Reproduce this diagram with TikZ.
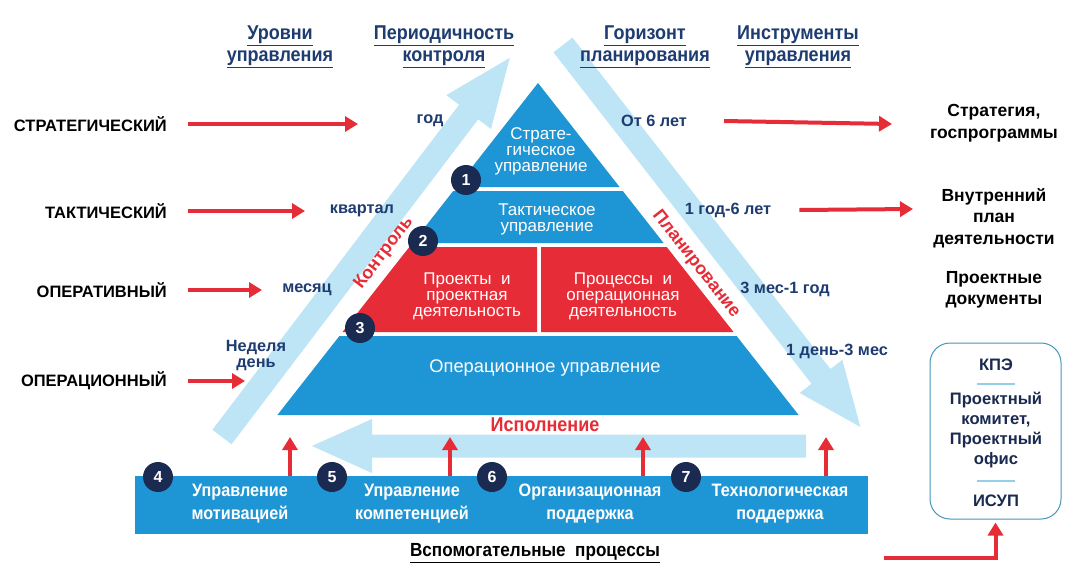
\documentclass[tikz,border=0pt]{standalone}
\usepackage{fontspec}
\setmainfont{Liberation Sans}
\newfontfamily\narrowbf{Liberation Sans Bold}[FakeStretch=0.9]
\usetikzlibrary{arrows.meta,calc}
\definecolor{pblue}{RGB}{30,150,214}
\definecolor{pred}{RGB}{230,45,55}
\definecolor{lblue}{RGB}{190,229,246}
\definecolor{navy}{RGB}{27,42,80}
\definecolor{tnavy}{RGB}{30,60,112}
\definecolor{boxline}{RGB}{70,150,190}
\definecolor{sepline}{RGB}{150,205,232}
\tikzset{
  redarrow/.style={draw=pred,line width=4pt,-{Triangle[length=13pt,width=15pt]},shorten >=0pt},
  layer/.style={fill=pblue},
  redlayer/.style={fill=pred},
  layertext/.style={text=white,align=center,inner sep=0pt,font=\fontsize{17}{16}\selectfont},
  numcircle/.style={circle,fill=navy,text=white,minimum size=30pt,inner sep=0pt,font=\bfseries\fontsize{16}{16}\selectfont},
  levellabel/.style={anchor=east,inner sep=0pt,font=\bfseries\fontsize{16.5}{17}\selectfont},
  periodlabel/.style={text=tnavy,align=center,inner sep=0pt,font=\bfseries\fontsize{16.3}{16}\selectfont},
  toollabel/.style={align=center,inner sep=0pt,font=\bfseries\fontsize{17.5}{21.5}\selectfont},
  header/.style={text=tnavy,align=center,inner sep=0pt,font=\narrowbf\fontsize{20}{22}\selectfont},
  bartext/.style={text=white,align=center,inner sep=0pt,font=\narrowbf\fontsize{18}{23}\selectfont},
  boxtext/.style={text=navy,align=center,inner sep=0pt,font=\bfseries\fontsize{16.6}{20}\selectfont},
  flowlabel/.style={text=pred,inner sep=0pt,font=\bfseries\fontsize{18}{18}\selectfont},
}
\begin{document}
\begin{tikzpicture}[x=1pt,y=-1pt]
\useasboundingbox (0,0) rectangle (1084,581);
\fill[white] (0,0) rectangle (1084,581);

% --- light blue flow arrows ---
\begin{scope}[shift={(222,437)},rotate=52.8]
  \fill[lblue] (0,-12) -- (408,-12) -- (408,-28) -- (476,0) -- (408,28) -- (408,12) -- (0,12) -- cycle;
\end{scope}
\begin{scope}[shift={(563,45)},rotate=-52.1]
  \fill[lblue] (0,-12) -- (420,-12) -- (420,-27) -- (484,0) -- (420,27) -- (420,12) -- (0,12) -- cycle;
\end{scope}
\begin{scope}[shift={(806,446)},rotate=180]
  \fill[lblue] (0,-11.5) -- (434,-11.5) -- (434,-27) -- (494,0) -- (434,27) -- (434,11.5) -- (0,11.5) -- cycle;
\end{scope}

% --- pyramid ---
\fill[layer] (538,83) -- (619.6,187) -- (456.4,187) -- cycle;
\fill[layer] (453.2,191) -- (622.8,191) -- (663.6,243) -- (412.4,243) -- cycle;
\fill[redlayer] (409.3,247) -- (537,247) -- (537,332) -- (342.5,332) -- cycle;
\fill[redlayer] (541,247) -- (666.7,247) -- (733.5,332) -- (541,332) -- cycle;
\fill[layer] (339.4,336) -- (736.6,336) -- (798.6,415) -- (277.4,415) -- cycle;

\node[layertext] (l1) at (541,151) {Страте-\\гическое\\управление};
\node[layertext] (l2) at (547,219) {Тактическое\\управление};
\node[layertext] (l3a) at (467,296) {Проекты\ \ и\\проектная\\деятельность};
\node[layertext] (l3b) at (623,296) {Процессы\ \ и\\операционная\\деятельность};
\node[layertext,font=\fontsize{18.3}{18}\selectfont] (l4) at (545,368) {Операционное управление};

\node[numcircle] (n1) at (466,180) {1};
\node[numcircle] (n2) at (423,241) {2};
\node[numcircle] (n3) at (360,328) {3};

% --- flow labels ---
\node[flowlabel,rotate=53] (kontrol) at (384,253) {Контроль};
\node[flowlabel,rotate=-52] (plan) at (696,264) {Планирование};
\node[flowlabel,font=\narrowbf\fontsize{20}{20}\selectfont] (ispoln) at (545,425) {Исполнение};

% --- headers ---
\node[header] (h1) at (280,47) {\underline{Уровни}\\\underline{управления}};
\node[header] (h2) at (444,47) {\underline{Периодичность}\\\underline{контроля}};
\node[header] (h3) at (645,47) {\underline{Горизонт}\\\underline{планирования}};
\node[header] (h4) at (798,47) {\underline{Инструменты}\\\underline{управления}};

% --- levels ---
\node[levellabel] (s1) at (167,124) {СТРАТЕГИЧЕСКИЙ};
\node[levellabel] (s2) at (167,211) {ТАКТИЧЕСКИЙ};
\node[levellabel] (s3) at (167,290) {ОПЕРАТИВНЫЙ};
\node[levellabel] (s4) at (167,381) {ОПЕРАЦИОННЫЙ};

\coordinate (a1) at (358,124);
\coordinate (a2) at (305,211);
\coordinate (a3) at (262,290);
\coordinate (a4) at (245,381);
\draw[redarrow] ([xshift=21pt]s1.east) -- (a1);
\draw[redarrow] ([xshift=21pt]s2.east) -- (a2);
\draw[redarrow] ([xshift=21pt]s3.east) -- (a3);
\draw[redarrow] ([xshift=21pt]s4.east) -- (a4);

% --- periods ---
\node[periodlabel] (p1) at (430,121) {год};
\node[periodlabel] (p2) at (362,211) {квартал};
\node[periodlabel] (p3) at (307,290) {месяц};
\node[periodlabel] (p4) at (256,356) {Неделя\\день};

% --- horizons ---
\node[periodlabel] (g1) at (654,121) {От 6 лет};
\node[periodlabel] (g2) at (728,210) {1 год-6 лет};
\node[periodlabel] (g3) at (785,289) {3 мес-1 год};
\node[periodlabel] (g4) at (837,351) {1 день-3 мес};

% --- tools ---
\node[toollabel] (t1) at (994,123) {Стратегия,\\госпрограммы};
\node[toollabel] (t2) at (994,218) {Внутренний\\план\\деятельности};
\node[toollabel] (t3) at (994,290) {Проектные\\документы};

\coordinate (b1) at (892,124);
\coordinate (b2) at (913,209);
\draw[redarrow] ([xshift=37pt]g1.east) -- (b1);
\draw[redarrow] ([xshift=28pt]g2.east) -- (b2);

% --- instrument box ---
\node[draw=boxline,line width=1pt,rounded corners=20pt,minimum width=131pt,minimum height=176pt,inner sep=0pt] (ibox) at (995.5,431) {};
\node[boxtext] (k1) at (996,365) {КПЭ};
\node[boxtext] (k2) at (996,430) {Проектный\\комитет,\\Проектный\\офис};
\node[boxtext] (k3) at (996,501) {ИСУП};
\draw[sepline,line width=1.5pt] (977,384) -- (1015,384);
\draw[sepline,line width=1.5pt] (977,481) -- (1015,481);

\coordinate (e0) at (884,558);
\draw[draw=pred,line width=4pt,-{Triangle[length=13pt,width=15pt]}] (e0) -| ([yshift=-3pt]ibox.south);

% --- support bar ---
\fill[pblue] (135,476) rectangle (868,534);
\node[inner sep=0pt,minimum width=733pt,minimum height=58pt] (bar) at (501.5,505) {};
\node[bartext] (c1) at (240,504) {Управление\\мотивацией};
\node[bartext] (c2) at (412,504) {Управление\\компетенцией};
\node[bartext] (c3) at (590,504) {Организационная\\поддержка};
\node[bartext] (c4) at (780,504) {Технологическая\\поддержка};
\node[numcircle] (n4) at (158,477) {4};
\node[numcircle] (n5) at (332,477) {5};
\node[numcircle] (n6) at (492,477) {6};
\node[numcircle] (n7) at (686,477) {7};

\coordinate (u1) at (290,437);
\coordinate (u2) at (450,437);
\coordinate (u3) at (643,437);
\coordinate (u4) at (826,437);
\foreach \u in {u1,u2,u3,u4}
  \draw[redarrow] (\u |- bar.north) -- (\u);

\node[inner sep=0pt,font=\narrowbf\fontsize{19}{19}\selectfont] (vsp) at (535,553) {\underline{Вспомогательные\ \ процессы}};
\end{tikzpicture}
\end{document}
